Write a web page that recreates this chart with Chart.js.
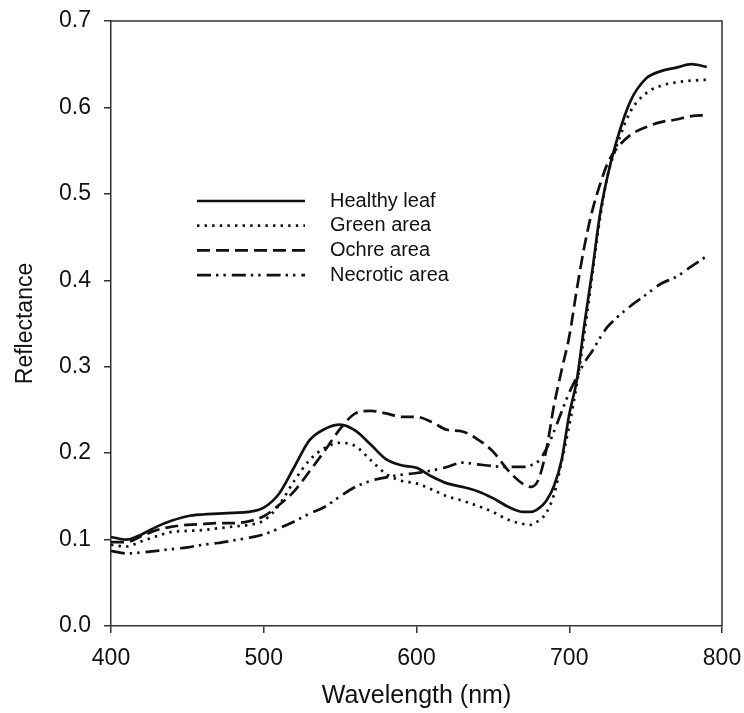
<!DOCTYPE html>
<html>
<head>
<meta charset="utf-8">
<script src="https://cdn.jsdelivr.net/npm/chart.js@4"></script>
<style>
  html, body { margin: 0; padding: 0; background: #fff; }
  #wrap { width: 744px; height: 713px; }
</style>
</head>
<body>
<div id="wrap"><canvas id="spectra"></canvas></div>
<script>
// wavelengths (nm) shared by all series
const wavelengths = [400, 410, 420, 430, 440, 450, 460, 470, 480, 490, 500, 510, 520, 530, 540, 550, 560, 570, 580, 590,
  600, 610, 620, 630, 640, 650, 660, 670, 675, 680, 685, 690, 695, 700, 705, 710, 715, 720, 725, 730,
  740, 750, 760, 770, 780, 790];

const healthyLeaf = [0.103, 0.100, 0.106, 0.115, 0.122, 0.127, 0.129, 0.130, 0.131, 0.132, 0.137, 0.153, 0.184, 0.215, 0.228, 0.233, 0.226, 0.210, 0.193, 0.186,
  0.183, 0.173, 0.165, 0.161, 0.156, 0.148, 0.138, 0.132, 0.132, 0.136, 0.145, 0.162, 0.192, 0.245, 0.285, 0.350, 0.410, 0.475, 0.520, 0.555,
  0.607, 0.633, 0.642, 0.646, 0.650, 0.647];

const greenArea = [0.094, 0.092, 0.098, 0.104, 0.109, 0.110, 0.111, 0.113, 0.115, 0.117, 0.122, 0.140, 0.168, 0.192, 0.206, 0.212, 0.208, 0.192, 0.176, 0.168,
  0.165, 0.158, 0.150, 0.145, 0.139, 0.132, 0.123, 0.118, 0.117, 0.122, 0.131, 0.152, 0.190, 0.232, 0.280, 0.340, 0.405, 0.470, 0.520, 0.550,
  0.595, 0.616, 0.625, 0.629, 0.631, 0.632];

const ochreArea = [0.097, 0.097, 0.104, 0.111, 0.115, 0.117, 0.118, 0.119, 0.119, 0.121, 0.127, 0.140, 0.156, 0.179, 0.203, 0.228, 0.246, 0.249, 0.246, 0.242,
  0.242, 0.236, 0.227, 0.225, 0.216, 0.202, 0.180, 0.164, 0.161, 0.170, 0.204, 0.255, 0.296, 0.335, 0.390, 0.440, 0.480, 0.510, 0.535, 0.550,
  0.568, 0.577, 0.583, 0.586, 0.590, 0.591];

const necroticArea = [0.087, 0.084, 0.085, 0.087, 0.089, 0.091, 0.094, 0.096, 0.099, 0.102, 0.106, 0.113, 0.121, 0.130, 0.138, 0.150, 0.161, 0.168, 0.172, 0.175,
  0.177, 0.180, 0.184, 0.189, 0.187, 0.185, 0.184, 0.184, 0.186, 0.191, 0.205, 0.225, 0.248, 0.270, 0.288, 0.305, 0.318, 0.333, 0.346, 0.355,
  0.370, 0.383, 0.396, 0.404, 0.416, 0.428];

const seriesLabels = ['Healthy leaf', 'Green area', 'Ochre area', 'Necrotic area'];
const xTicks = [400, 500, 600, 700, 800];
const yTicks = [0.0, 0.1, 0.2, 0.3, 0.4, 0.5, 0.6, 0.7];

const FONT = '"Liberation Sans", Arial, sans-serif';
const INK = '#111';

function toPoints(values) {
  return wavelengths.map((w, i) => ({ x: w, y: values[i] }));
}

// line styles: solid, dotted, dashed, dash-dot-dot
const styles = [
  { dash: [], width: 2.7 },
  { dash: [2.4, 5.2], width: 2.7 },
  { dash: [13, 6], width: 2.7 },
  { dash: [14, 5, 2.4, 5, 2.4, 6], width: 2.7 }
];

const datasets = [healthyLeaf, greenArea, ochreArea, necroticArea].map((vals, i) => ({
  label: seriesLabels[i],
  data: toPoints(vals),
  borderColor: INK,
  borderWidth: styles[i].width,
  borderDash: styles[i].dash,
  borderCapStyle: 'butt',
  pointRadius: 0,
  fill: false,
  cubicInterpolationMode: 'monotone'
}));

// fixed scale boxes, no label-driven padding
function fixBox(s, size) {
  if (s.isHorizontal()) s.height = size; else s.width = size;
  s.paddingLeft = 0; s.paddingRight = 0; s.paddingTop = 0; s.paddingBottom = 0;
}

// box around plot area (top + right edges)
const framePlugin = {
  id: 'frame',
  afterDraw(chart) {
    const { ctx, chartArea: a } = chart;
    ctx.save();
    ctx.strokeStyle = '#333';
    ctx.lineWidth = 1.5;
    ctx.beginPath();
    ctx.moveTo(a.left, a.top);
    ctx.lineTo(a.right, a.top);
    ctx.lineTo(a.right, a.bottom);
    ctx.stroke();
    ctx.restore();
  }
};

// legend drawn inside plot with the dataset line styles
const innerLegend = {
  id: 'innerLegend',
  afterDraw(chart) {
    const { ctx } = chart;
    const x0 = 197, x1 = 305, tx = 330, y0 = 201, step = 24.7;
    ctx.save();
    chart.data.datasets.forEach((ds, i) => {
      const y = y0 + i * step;
      ctx.strokeStyle = ds.borderColor;
      ctx.lineWidth = ds.borderWidth;
      ctx.setLineDash(ds.borderDash);
      ctx.beginPath();
      ctx.moveTo(x0, y);
      ctx.lineTo(x1, y);
      ctx.stroke();
      ctx.setLineDash([]);
      ctx.fillStyle = INK;
      ctx.font = '20px ' + FONT;
      ctx.textBaseline = 'middle';
      ctx.fillText(ds.label, tx, y);
    });
    ctx.restore();
  }
};

new Chart(document.getElementById('spectra'), {
  type: 'line',
  data: { datasets: datasets },
  options: {
    responsive: true,
    maintainAspectRatio: false,
    animation: false,
    layout: { padding: { left: 0, top: 21, right: 22, bottom: 0 } },
    plugins: {
      legend: { display: false },
      tooltip: { enabled: false }
    },
    scales: {
      x: {
        type: 'linear',
        min: 400,
        max: 800,
        afterBuildTicks: (s) => { s.ticks = xTicks.map(v => ({ value: v })); },
        afterFit: (s) => fixBox(s, 87),
        grid: { display: true, drawOnChartArea: false, drawTicks: true, tickLength: 7, color: '#333', lineWidth: 1.5 },
        border: { display: true, color: '#333', width: 1.5 },
        ticks: { color: INK, font: { family: FONT, size: 23 }, padding: 12, maxRotation: 0 },
        title: { display: true, text: 'Wavelength (nm)', color: INK, font: { family: FONT, size: 25 }, padding: { top: 0, bottom: 2 } }
      },
      y: {
        min: 0,
        max: 0.7,
        afterBuildTicks: (s) => { s.ticks = yTicks.map(v => ({ value: v })); },
        afterFit: (s) => fixBox(s, 111),
        grid: { display: true, drawOnChartArea: false, drawTicks: true, tickLength: 7, color: '#333', lineWidth: 1.5 },
        border: { display: true, color: '#333', width: 1.5 },
        ticks: { color: INK, font: { family: FONT, size: 23 }, padding: 13, callback: (v) => Number(v).toFixed(1) },
        title: { display: true, text: 'Reflectance', color: INK, font: { family: FONT, size: 23 }, padding: { top: 12, bottom: 0 } }
      }
    }
  },
  plugins: [framePlugin, innerLegend]
});
</script>
</body>
</html>
